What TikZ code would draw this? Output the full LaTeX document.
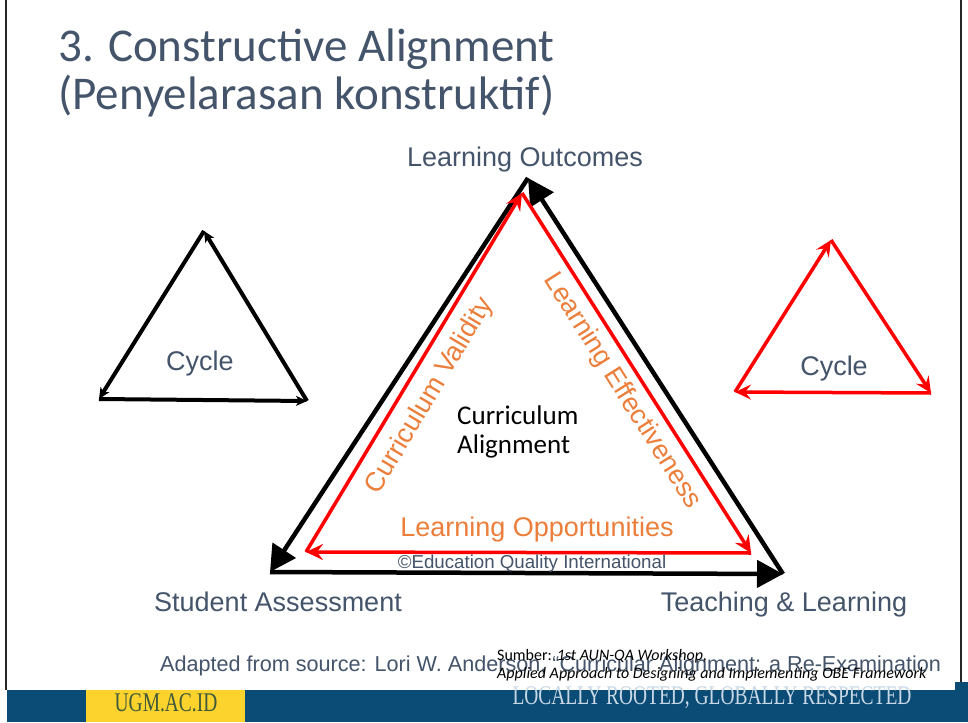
\documentclass[tikz,border=0pt]{standalone}
\usepackage{fontspec}
\setmainfont{Liberation Sans}
\newfontfamily\calibf{Carlito}
\newfontfamily\serff{Liberation Serif}
\usetikzlibrary{arrows.meta}
\definecolor{slate}{HTML}{44546A}
\definecolor{orangec}{HTML}{EB7E3A}
\definecolor{bandblue}{HTML}{0A4C75}
\definecolor{ugmyellow}{HTML}{FCD22C}
\definecolor{ugmgreen}{HTML}{3F5A3A}
\definecolor{mottoc}{HTML}{C8D8E6}
\begin{document}
\begin{tikzpicture}[x=1pt,y=-1pt,
  lbl/.style={font=\fontsize{27}{32}\selectfont, text=slate, inner sep=0pt, anchor=base},
  olbl/.style={font=\fontsize{27}{32}\selectfont, text=orangec, inner sep=0pt},
  blkarrow/.style={draw=black, line width=4.5pt, -{Triangle[length=26pt,width=27pt]}},
  redarrow/.style={draw=red, line width=3.5pt, -{Stealth[length=17pt,width=16pt,inset=6pt]}},
  smallblk/.style={draw=black, line width=4pt, -{Stealth[length=11pt,width=10pt,inset=3pt]}},
  smallred/.style={draw=red, line width=3.5pt, -{Stealth[length=16pt,width=15pt,inset=6pt]}}]
\useasboundingbox (0,0) rectangle (968,722);
\fill[white] (0,0) rectangle (968,722);
% frame lines
\draw[line width=2pt, black!85] (6,0) -- (6,690);
\draw[line width=2pt, black!85] (961,0) -- (961,682);
% bottom band
\fill[bandblue] (7,690) rectangle (968,722);
\fill[bandblue] (955,682) rectangle (968,722);
\fill[ugmyellow] (86,690) rectangle (245,722);
\node[inner sep=0pt, text=ugmgreen, font=\serff\fontsize{27}{30}\selectfont] (ugm) at (166,703) {\scalebox{0.72}[1]{UGM.AC.ID}};
\node[inner sep=0pt, text=mottoc, font=\serff\fontsize{27}{30}\selectfont] (motto) at (712,698) {\scalebox{0.72}[1]{LOCALLY ROOTED, GLOBALLY RESPECTED}};
% title
\node[inner sep=0pt, anchor=base west, text=slate, font=\calibf\fontsize{47}{56}\selectfont] (t1) at (58,62) {3. Constructive Alignment};
\node[inner sep=0pt, anchor=base west, text=slate, font=\calibf\fontsize{47}{56}\selectfont] (t2) at (58,110) {(Penyelarasan konstruktif)};
% big black triangle
\coordinate (A) at (528,178);
\coordinate (BL) at (270,572);
\coordinate (BR) at (783,574);
\draw[blkarrow] (BL) -- (BR);
\draw[blkarrow] (BR) -- (A);
\draw[blkarrow] (A) -- (BL);
% red inner triangle
\coordinate (rA) at (522,193);
\coordinate (rBL) at (306,552);
\coordinate (rBR) at (751,553);
\draw[redarrow] (rBL) -- (rA);
\draw[redarrow] (rA) -- (rBR);
\draw[redarrow] (rBR) -- (rBL);
% small black triangle
\coordinate (sA) at (204,231);
\coordinate (sBL) at (99,399);
\coordinate (sBR) at (307,401);
\draw[smallblk] (sBL) -- (sBR);
\draw[smallblk] (sBR) -- (sA);
\draw[smallblk] (sA) -- (sBL);
% small red triangle
\coordinate (qA) at (831,240);
\coordinate (qBL) at (735,392);
\coordinate (qBR) at (931,393);
\draw[smallred] (qBL) -- (qA);
\draw[smallred] (qA) -- (qBR);
\draw[smallred] (qBR) -- (qBL);
% labels
\node[lbl] (lo) at (525,167) {Learning Outcomes};
\node[lbl] (sa) at (278,611) {Student Assessment};
\node[lbl] (tl) at (784,611) {Teaching \& Learning};
\node[lbl] (c1) at (200,370) {Cycle};
\node[lbl] (c2) at (834,375) {Cycle};
\node[inner sep=0pt, anchor=base west, text=black, font=\calibf\fontsize{27}{30}\selectfont] (ca1) at (457,424) {Curriculum};
\node[inner sep=0pt, anchor=base west, text=black, font=\calibf\fontsize{27}{30}\selectfont] (ca2) at (457,453) {Alignment};
\node[olbl, anchor=base] (lop) at (537,536) {Learning Opportunities};
\node[inner sep=0pt, anchor=base, text=slate, font=\fontsize{18.7}{22}\selectfont] (eqi) at (532,568) {©Education Quality International};
\node[olbl, rotate=59.2] (cv) at (430,396) {Curriculum Validity};
\node[olbl, rotate=-57.7] (le) at (622,391) {Learning Effectiveness};
% source
\node[inner sep=0pt, anchor=base west, text=slate, font=\fontsize{21.6}{24}\selectfont] (src) at (160,671) {Adapted from source: Lori W. Anderson, “Curricular Alignment: a Re-Examination};
\node[inner sep=0pt, anchor=base west, text=black, font=\calibf\fontsize{16}{18}\selectfont] (sb1) at (497,660) {Sumber: \itshape 1st AUN-QA Workshop,};
\node[inner sep=0pt, anchor=base west, text=black, font=\calibf\itshape\fontsize{16}{18}\selectfont] (sb2) at (497,678) {Applied Approach to Designing and Implementing OBE Framework};
\end{tikzpicture}
\end{document}
